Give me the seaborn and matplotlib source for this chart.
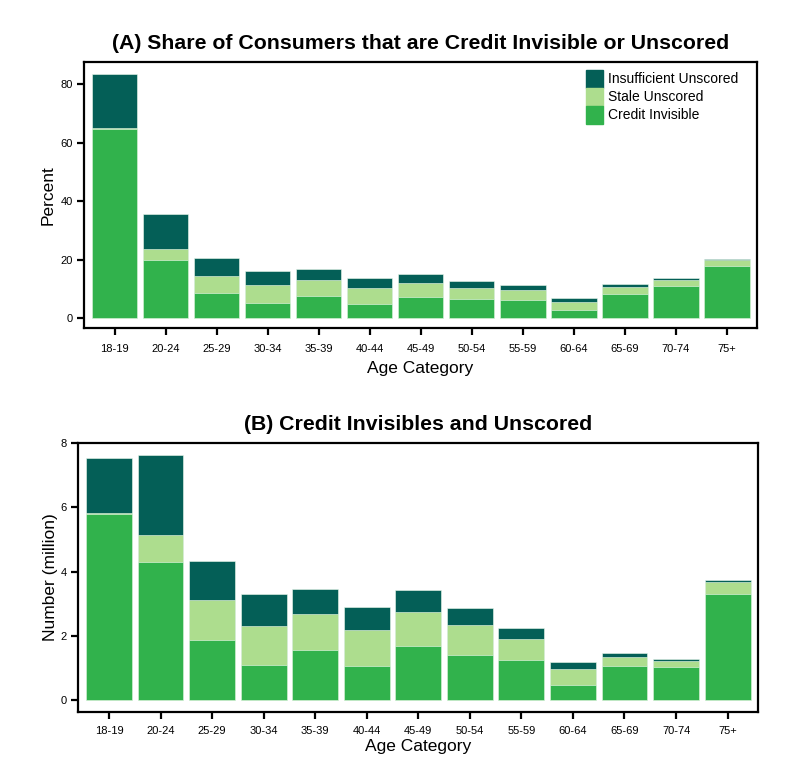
import matplotlib
matplotlib.use("Agg")
import matplotlib.pyplot as plt
import matplotlib.patches as mpatches
import pandas as pd
import seaborn as sns

ages = ["18-19", "20-24", "25-29", "30-34", "35-39", "40-44", "45-49",
        "50-54", "55-59", "60-64", "65-69", "70-74", "75+"]

# panel A, percent of consumers
pct_invisible = [64.6, 20.1, 8.8, 5.3, 7.5, 4.9, 7.3, 6.5, 6.3, 2.7, 8.5, 11.1, 17.8]
pct_stale = [0.3, 3.7, 5.8, 6.0, 5.7, 5.4, 4.7, 3.9, 3.4, 3.0, 2.3, 2.0, 2.1]
pct_insufficient = [18.5, 11.7, 6.0, 5.0, 3.8, 3.5, 3.0, 2.5, 1.6, 1.3, 0.9, 0.6, 0.5]

# panel B, number of consumers (million)
num_invisible = [5.80, 4.30, 1.87, 1.09, 1.55, 1.05, 1.67, 1.41, 1.25, 0.46, 1.06, 1.03, 3.30]
num_stale = [0.02, 0.83, 1.24, 1.22, 1.13, 1.12, 1.07, 0.93, 0.66, 0.51, 0.29, 0.18, 0.36]
num_insufficient = [1.71, 2.51, 1.22, 0.98, 0.77, 0.72, 0.69, 0.53, 0.34, 0.22, 0.11, 0.06, 0.07]

c_insuff = "#045f57"
c_stale = "#addd8e"
c_invis = "#31b24c"

sns.set_theme(style="ticks")
plt.rcParams["font.family"] = ["Liberation Sans", "DejaVu Sans"]
plt.rcParams["text.color"] = "black"
plt.rcParams["axes.labelcolor"] = "black"


def stacked_panel(ax, invisible, stale, insufficient, ylabel, ylim, yticks, title,
                  ylabelpad, xtickpad, xlabelpad):
    df = pd.DataFrame({"age": ages, "invisible": invisible, "stale": stale,
                       "insufficient": insufficient})
    df["mid"] = df["invisible"] + df["stale"]
    df["total"] = df["mid"] + df["insufficient"]

    bar_kw = dict(width=0.89, edgecolor="#eefbee", linewidth=0.4, ax=ax, order=ages)
    sns.barplot(data=df, x="age", y="total", color=c_insuff, saturation=1, **bar_kw)
    sns.barplot(data=df, x="age", y="mid", color=c_stale, saturation=1, **bar_kw)
    sns.barplot(data=df, x="age", y="invisible", color=c_invis, saturation=1, **bar_kw)

    ax.set_xlim(-0.6, 12.59)
    ax.set_ylim(*ylim)
    ax.set_yticks(yticks)
    ax.set_xlabel("Age Category", fontsize=12.5, labelpad=xlabelpad)
    ax.set_ylabel(ylabel, fontsize=12.5, labelpad=ylabelpad)
    ax.set_title(title, fontsize=15.3, fontweight="bold", pad=9.5)
    ax.tick_params(axis="both", labelsize=8, length=5, width=1.6, direction="out",
                   pad=3, colors="black")
    ax.tick_params(axis="x", pad=xtickpad)
    for sp in ax.spines.values():
        sp.set_visible(True)
        sp.set_linewidth(1.6)
        sp.set_color("black")


fig = plt.figure(figsize=(8.12, 7.79), dpi=100)
ax1 = fig.add_axes([0.1034, 0.5789, 0.8289, 0.3415])
ax2 = fig.add_axes([0.0961, 0.0860, 0.8374, 0.3453])

stacked_panel(ax1, pct_invisible, pct_stale, pct_insufficient, "Percent",
              (-3.3, 87.6), [0, 20, 40, 60, 80],
              "(A) Share of Consumers that are Credit Invisible or Unscored",
              ylabelpad=3.7, xtickpad=6.5, xlabelpad=5)
stacked_panel(ax2, num_invisible, num_stale, num_insufficient, "Number (million)",
              (-0.37, 8.0), [0, 2, 4, 6, 8],
              "(B) Credit Invisibles and Unscored",
              ylabelpad=2, xtickpad=5, xlabelpad=2)

handles = [mpatches.Patch(color=c_insuff, label="Insufficient Unscored"),
           mpatches.Patch(color=c_stale, label="Stale Unscored"),
           mpatches.Patch(color=c_invis, label="Credit Invisible")]
ax1.legend(handles=handles, loc="upper left", bbox_to_anchor=(0.746, 0.97),
           frameon=False, fontsize=10, handlelength=1.25, handleheight=1.6,
           labelspacing=0, handletextpad=0.35, borderpad=0, borderaxespad=0)

fig.savefig("out.png", dpi=100)
